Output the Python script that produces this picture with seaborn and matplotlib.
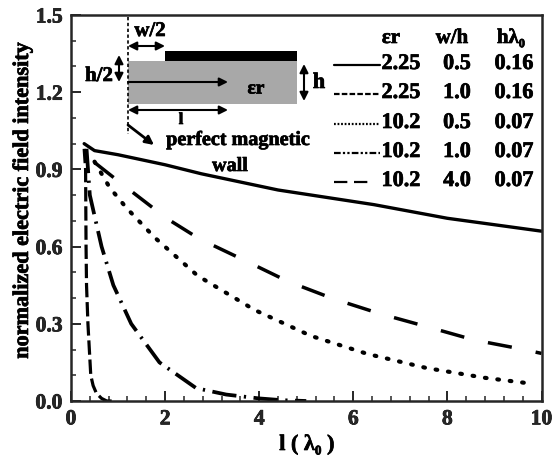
import numpy as np
import pandas as pd
import matplotlib
matplotlib.use("Agg")
import matplotlib.pyplot as plt
import matplotlib.patheffects as pe
import seaborn as sns

sns.set_style("ticks")
plt.rcParams['font.family'] = ['Liberation Serif', 'DejaVu Serif']

# curves
x_solid = [0.28, 0.5, 1, 2, 2.77, 4.4, 6.44, 8, 10]
y_solid = [1.0, 0.973, 0.957, 0.918, 0.883, 0.82, 0.763, 0.71, 0.66]
x_long = [0.5, 1.07, 2.03, 2.73, 3.66, 4.62, 5.58, 6.57, 7.58, 8.57, 9.57, 10]
y_long = [0.927, 0.845, 0.71, 0.63, 0.549, 0.464, 0.397, 0.339, 0.288, 0.237, 0.202, 0.185]
x_dot = [0.5, 0.82, 1.18, 1.78, 2.69, 3.9, 5.1, 6.3, 7.56, 8.8, 9.85]
y_dot = [0.93, 0.83, 0.75, 0.635, 0.487, 0.354, 0.253, 0.183, 0.128, 0.09, 0.066]
x_dd = [0.33, 0.4, 0.65, 0.9, 1.28, 1.88, 2.66, 3.3, 4, 4.5, 5]
y_dd = [0.98, 0.8, 0.6, 0.45, 0.3, 0.15, 0.05, 0.025, 0.01, 0.003, 0.0]
x_steep = [0.28, 0.31, 0.32, 0.33, 0.36, 0.42, 0.47, 0.54, 0.65, 0.76, 0.95]
y_steep = [0.98, 0.9, 0.6, 0.45, 0.3, 0.1, 0.06, 0.03, 0.01, 0.0, 0.0]

header = ["εr", "w/h", "hλ₀"]
col_er = ["2.25", "2.25", "10.2", "10.2", "10.2"]
col_wh = ["0.5", "1.0", "0.5", "1.0", "4.0"]
col_hl = ["0.16", "0.16", "0.07", "0.07", "0.07"]

fig = plt.figure(figsize=(5.54, 4.57), dpi=100)
ax = fig.add_axes([71 / 554, 1 - 401 / 457, (541.5 - 71) / 554, (401 - 15) / 457])

curves = [
    (x_solid, y_solid, "-", 2.4),
    (x_long, y_long, (0, (7, 7)), 2.5),
    (x_dot, y_dot, (0, (0.4, 2.6)), 3.0),
    (x_dd, y_dd, (0, (6.5, 2, 0.6, 2)), 2.7),
    (x_steep, y_steep, (0, (4.5, 1.5)), 2.3),
]
for xs, ys, ls, lw in curves:
    df = pd.DataFrame({"x": xs, "y": ys})
    line = sns.lineplot(data=df, x="x", y="y", ax=ax, color="black", linestyle=ls, linewidth=lw,
                        errorbar=None, sort=False).get_lines()[-1]
    line.set_dash_capstyle("round" if lw == 3.0 else "butt")

ax.set_xlim(0, 10)
ax.set_ylim(0, 1.5)
ax.set_xticks(np.arange(0, 11, 2))
ax.set_yticks([0, 0.3, 0.6, 0.9, 1.2, 1.5])
ax.set_yticklabels(["0.0", "0.3", "0.6", "0.9", "1.2", "1.5"])
ax.set_xticks([v for v in np.arange(0, 10.01, 0.4) if abs(v / 2 - round(v / 2)) > 0.01], minor=True)
ax.set_yticks([v for v in np.arange(0, 1.501, 0.1) if abs(v / 0.3 - round(v / 0.3)) > 0.01], minor=True)
ax.tick_params(axis="both", which="major", direction="in", length=7, width=1.4, labelsize=15.5, pad=6)
ax.tick_params(axis="both", which="minor", direction="in", length=3.5, width=1.1)
for lab in ax.get_xticklabels() + ax.get_yticklabels():
    lab.set_fontweight("bold")
for s in ax.spines.values():
    s.set_linewidth(1.8)
ax.set_xlabel("")
ax.set_ylabel("")

# overlay in picture coordinates for the sketch and the table
ov = fig.add_axes([0, 0, 1, 1])
ov.set_xlim(0, 554)
ov.set_ylim(457, 0)
ov.axis("off")
ov.patch.set_alpha(0)

ov.fill_between([128, 297], 61, 104, color="#a8a8a8", lw=0)
ov.fill_between([165, 297], 51, 61, color="black", lw=0)
ov.plot([128, 128], [17, 134], color="black", lw=1.2, ls=(0, (2, 1.5)))


def arrow(x0, y0, x1, y1, style="<|-|>", lw=1.5):
    ov.annotate("", xy=(x1, y1), xytext=(x0, y0),
                arrowprops=dict(arrowstyle=style + ",head_length=0.5,head_width=0.25", color="black",
                                lw=lw, shrinkA=0, shrinkB=0))


arrow(128, 46, 165, 46)
arrow(119, 55, 119, 82)
arrow(128, 82, 228, 82, "-|>")
arrow(128, 110, 228, 110)
arrow(304, 64, 304, 101)
arrow(128, 125, 154, 145, "-|>", 2)

bold = dict(fontweight="bold", color="black", va="center", ha="center")
ov.text(150, 31, "w/2", fontsize=15, **bold)
ov.text(99, 76, "h/2", fontsize=15, **bold)
ov.text(256, 89, "εr", fontsize=14, **bold)
ov.text(319, 83, "h", fontsize=16, **bold)
ov.text(181, 120, "l", fontsize=12, **bold)
ov.text(238, 140, "perfect magnetic", fontsize=14.5, **bold)
ov.text(230, 166, "wall", fontsize=14.5, **bold)
ov.text(23, 200, "normalized electric field intensity", fontsize=16, rotation=90, **bold)
ov.text(307, 445, "l ( λ₀ )", fontsize=16, **bold)

# table acting as legend
row_y = [65, 94, 124, 153, 182]
row_ls = ["-", (0, (2.5, 1)), (0, (0.8, 0.8)), (0, (3, 1, 1, 1, 1, 1)), (0, (6, 3))]
ov.text(391, 38, header[0], fontsize=15, **bold)
ov.text(452, 38, header[1], fontsize=15, **bold)
ov.text(511, 38, header[2], fontsize=15, **bold)
for i, y in enumerate(row_y):
    ov.plot([334, 380 if i < 4 else 372], [y, y], color="black", lw=1.6, ls=row_ls[i])
    ov.text(401, y - 1, col_er[i], fontsize=16, **bold)
    ov.text(457, y - 1, col_wh[i], fontsize=16, **bold)
    ov.text(514, y - 1, col_hl[i], fontsize=16, **bold)

# scanned print looks heavier than the plain bold face
for t in ov.texts + ax.get_xticklabels() + ax.get_yticklabels():
    t.set_path_effects([pe.withStroke(linewidth=0.5, foreground="black")])

fig.savefig("out.png", dpi=100)
